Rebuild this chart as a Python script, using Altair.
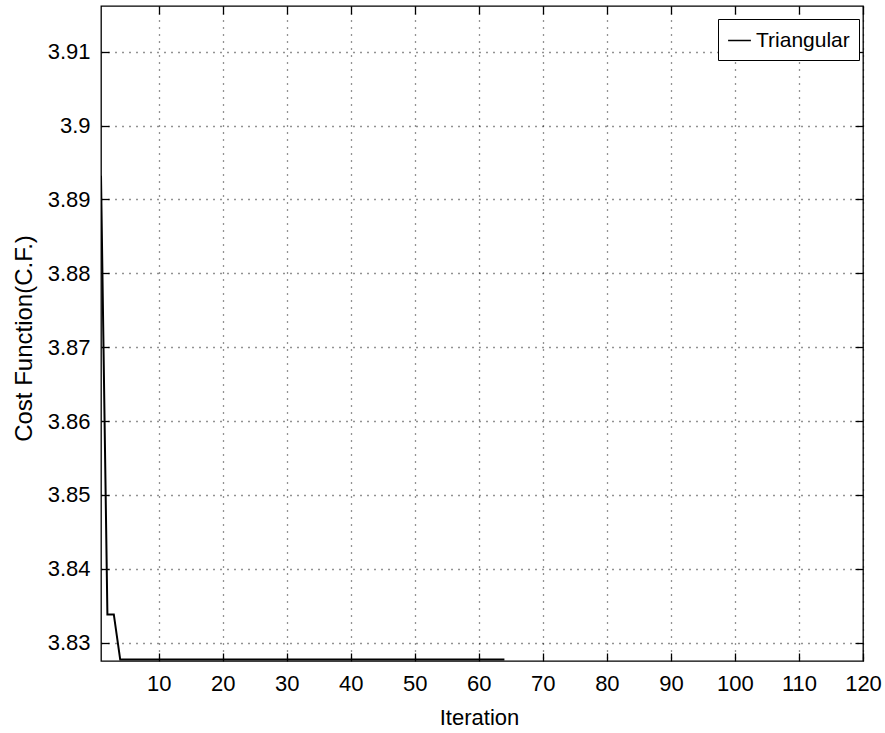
import altair as alt
import pandas as pd

# ---- data ----
iterations = list(range(1, 65))
cost = [3.8932, 3.8338, 3.8338] + [3.8277] * 61
series_name = ["Triangular"] * len(iterations)

x_ticks = [10, 20, 30, 40, 50, 60, 70, 80, 90, 100, 110, 120]
y_ticks = [3.83, 3.84, 3.85, 3.86, 3.87, 3.88, 3.89, 3.90, 3.91]

df = pd.DataFrame({"Iteration": iterations, "Cost": cost, "Series": series_name})

W, H = 762, 655
FONT = "Liberation Sans, Arial, Helvetica, sans-serif"
FS = 22

x_scale = alt.Scale(domain=[1, 120], nice=False, zero=False)
y_scale = alt.Scale(domain=[3.8275, 3.9162], nice=False, zero=False)

base = alt.Chart(df)

main = base.mark_line(color="black", strokeWidth=2, clip=True).encode(
    x=alt.X(
        "Iteration:Q",
        scale=x_scale,
        axis=alt.Axis(
            values=x_ticks,
            title="Iteration",
            titleFont=FONT,
            titleFontSize=FS,
            titleFontWeight="normal",
            titleColor="black",
            titleX=378,
            titleY=63,
            titleAlign="center",
            titleBaseline="alphabetic",
            labelFont=FONT,
            labelFontSize=FS,
            labelColor="black",
            labelPadding=12,
            labelFlush=False,
            labelOverlap=False,
            ticks=False,
            domain=False,
            grid=True,
            gridColor="black",
            gridDash=[1, 6],
            gridWidth=1.3,
            gridOpacity=0.85,
        ),
    ),
    y=alt.Y(
        "Cost:Q",
        scale=y_scale,
        axis=alt.Axis(
            values=y_ticks,
            format="~g",
            title="Cost Function(C.F.)",
            titleFont=FONT,
            titleFontSize=24,
            titleFontWeight="normal",
            titleColor="black",
            titleAngle=270,
            titleX=-77,
            titleY=332,
            titleAlign="center",
            titleBaseline="middle",
            labelFont=FONT,
            labelFontSize=FS,
            labelColor="black",
            labelPadding=11,
            labelFlush=False,
            labelOverlap=False,
            ticks=False,
            domain=False,
            grid=True,
            gridColor="black",
            gridDash=[1, 6],
            gridWidth=1.3,
            gridOpacity=0.85,
        ),
    ),
    color=alt.Color(
        "Series:N",
        scale=alt.Scale(range=["black"]),
        legend=alt.Legend(
            title=None,
            orient="none",
            legendX=617,
            legendY=13,
            symbolType="stroke",
            symbolSize=520,
            symbolStrokeWidth=1.5,
            symbolStrokeColor="black",
            labelFont=FONT,
            labelFontSize=21,
            labelColor="black",
            labelOffset=4,
            strokeColor="black",
            fillColor="white",
            padding=9,
        ),
    ),
)

tick_kw = dict(labels=False, domain=False, grid=False, ticks=True,
               tickSize=8, tickColor="black", tickWidth=1.3, title=None)

# inward ticks on bottom and left edges
ticks_a = base.mark_line(opacity=0).encode(
    x=alt.X("Iteration:Q", scale=x_scale,
            axis=alt.Axis(orient="top", offset=-H, values=x_ticks, **tick_kw)),
    y=alt.Y("Cost:Q", scale=y_scale,
            axis=alt.Axis(orient="right", offset=-W, values=y_ticks, **tick_kw)),
)

# inward ticks on top and right edges
ticks_b = base.mark_line(opacity=0).encode(
    x=alt.X("Iteration:Q", scale=x_scale,
            axis=alt.Axis(orient="bottom", offset=-H, values=x_ticks, **tick_kw)),
    y=alt.Y("Cost:Q", scale=y_scale,
            axis=alt.Axis(orient="left", offset=-W, values=y_ticks, **tick_kw)),
)

chart = (
    alt.layer(main, ticks_a, ticks_b)
    .resolve_axis(x="independent", y="independent")
    .properties(
        width=W,
        height=H,
        autosize=alt.AutoSizeParams(type="none"),
        padding={"left": 101, "top": 6, "right": 22, "bottom": 72},
        background="white",
    )
    .configure_view(stroke="black", strokeWidth=1.3)
)

chart.save("out.html", embed_options={"renderer": "svg", "actions": False})
